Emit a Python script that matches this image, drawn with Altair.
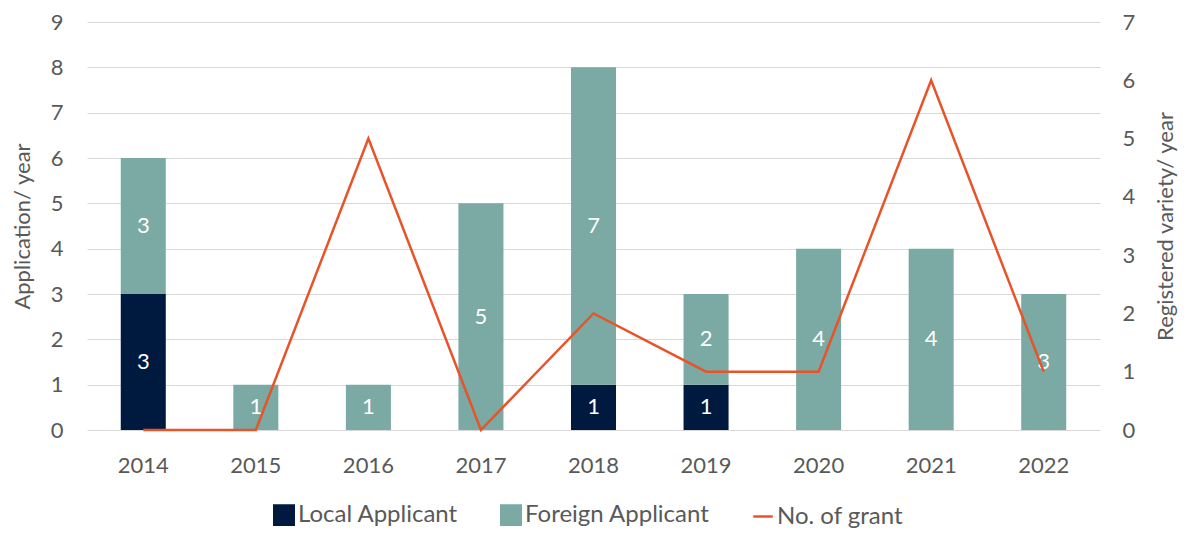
import altair as alt
import pandas as pd

years = ["2014", "2015", "2016", "2017", "2018", "2019", "2020", "2021", "2022"]
local = [3, 0, 0, 0, 1, 1, 0, 0, 0]
foreign = [3, 1, 1, 5, 7, 2, 4, 4, 3]
grant = [0, 0, 5, 0, 2, 1, 1, 6, 1]
series = ["Local Applicant", "Foreign Applicant", "No. of grant"]
colors = ["#001a3f", "#7aaaa3", "#e8542a"]

rows = []
for i, yr in enumerate(years):
    rows.append({"year": yr, "type": series[0], "ord": 0, "value": local[i]})
    rows.append({"year": yr, "type": series[1], "ord": 1, "value": foreign[i]})
bars_df = pd.DataFrame(rows)
line_df = pd.DataFrame({"year": years, "grant": grant})

FONT = "Lato"
GRAY = "#595959"

xenc = alt.X(
    "year:N", title=None, sort=years,
    scale=alt.Scale(paddingInner=0.6, paddingOuter=0.3),
    axis=alt.Axis(labelFontSize=22, labelColor=GRAY, labelFont=FONT, ticks=False,
                  domain=False, labelPadding=25, labelAngle=0),
)

left_axis = alt.Axis(
    title="Application/ year", values=list(range(10)), grid=True, gridColor="#d9d9d9",
    ticks=False, domain=False, labelFontSize=22, labelColor=GRAY, labelFont=FONT,
    labelPadding=24, titleFontSize=22, titleFont=FONT, titleColor=GRAY,
    titleFontWeight="normal", titlePadding=16,
)

color = alt.Color(
    "type:N",
    scale=alt.Scale(domain=series, range=colors),
    legend=alt.Legend(
        orient="none", legendX=185, legendY=481, direction="horizontal", title=None,
        labelFont=FONT, labelFontSize=24, labelColor=GRAY, labelLimit=0, symbolSize=380,
        symbolType=alt.ExprRef(expr="datum.label == 'No. of grant' ? 'stroke' : 'square'"),
        symbolStrokeColor=alt.ExprRef(expr="scale('color', datum.value)"),
        symbolStrokeWidth=2.5,
        columnPadding=38, labelOffset=2,
    ),
)

bars = alt.Chart(bars_df).mark_bar().encode(
    x=xenc,
    y=alt.Y("value:Q", stack="zero", scale=alt.Scale(domain=[0, 9]), axis=left_axis),
    color=color,
    order=alt.Order("ord:Q"),
)

text = (
    alt.Chart(bars_df)
    .transform_filter("datum.value > 0")
    .transform_stack(stack="value", groupby=["year"], as_=["v0", "v1"],
                     sort=[alt.SortField("ord", order="ascending")])
    .transform_calculate(mid="(datum.v0 + datum.v1) / 2")
    .mark_text(color="white", fontSize=22, font=FONT, baseline="middle")
    .encode(
        x=alt.X("year:N", sort=years),
        y=alt.Y("mid:Q", scale=alt.Scale(domain=[0, 9]), axis=left_axis),
        text="value:Q",
    )
)

line = alt.Chart(line_df).mark_line(strokeWidth=2.5).encode(
    x=alt.X("year:N", sort=years),
    y=alt.Y(
        "grant:Q", scale=alt.Scale(domain=[0, 7]),
        axis=alt.Axis(orient="right", title="Registered variety/ year", titleAngle=-90,
                      titleBaseline="top",
                      values=list(range(8)), grid=False, ticks=False, domain=False,
                      labelFontSize=22, labelColor=GRAY, labelFont=FONT, labelPadding=22,
                      titleFontSize=22, titleFont=FONT, titleColor=GRAY,
                      titleFontWeight="normal", titlePadding=21),
    ),
    color=alt.ColorDatum("No. of grant"),
)

chart = (
    alt.layer(alt.layer(bars, text), line)
    .resolve_scale(y="independent")
    .properties(
        width=1013, height=408,
        padding={"left": 79, "top": 14, "right": 80, "bottom": 101},
        autosize=alt.AutoSizeParams(type="none"),
    )
    .configure_view(stroke=None)
)

chart.save("out.html", embed_options={"renderer": "svg", "actions": False})
